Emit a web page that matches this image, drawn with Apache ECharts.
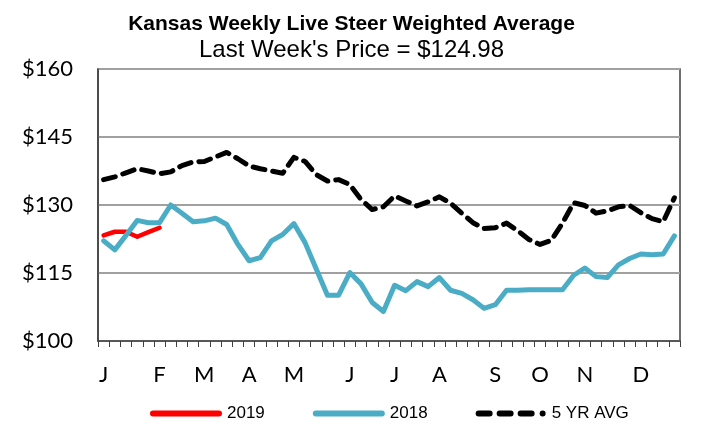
<!DOCTYPE html>
<html>
<head>
<meta charset="utf-8">
<script src="https://cdn.jsdelivr.net/npm/echarts@6/dist/echarts.min.js"></script>
<style>html,body{margin:0;padding:0;background:#fff;}#c{width:703px;height:424px;}</style>
</head>
<body>
<div id="c"></div>
<script>
// 52 weekly categories; month letters at the week where they are labelled
const weeks = ['J','','','','','F','','','','M','','','','A','','','','M','','','','','J','','','','J','','','','A','','','','','S','','','','O','','','','N','','','','','D','','',''];
const y2019 = [123.3, 124.1, 124.1, 123.0, 124.0, 124.98];
const y2018 = [122.1, 120.1, 123.3, 126.6, 126.1, 126.1, 130.0, 128.2, 126.3, 126.5, 127.1, 125.7, 121.3, 117.7, 118.4, 122.1, 123.5, 125.9, 121.7, 115.9, 110.1, 110.1, 115.1, 112.6, 108.5, 106.5, 112.3, 111.1, 113.1, 112.0, 114.0, 111.2, 110.5, 109.1, 107.2, 108.0, 111.2, 111.2, 111.3, 111.3, 111.3, 111.3, 114.5, 116.1, 114.2, 114.0, 116.8, 118.2, 119.2, 119.0, 119.2, 123.2];
const avg5 = [135.6, 136.2, 137.1, 138.0, 137.5, 136.9, 137.3, 138.7, 139.5, 139.6, 140.6, 141.6, 140.2, 138.6, 138.0, 137.5, 137.0, 140.5, 139.6, 136.7, 135.3, 135.6, 134.5, 131.2, 129.0, 129.6, 132.0, 130.9, 129.8, 130.7, 131.8, 130.4, 128.2, 126.1, 124.8, 125.0, 126.0, 124.3, 122.4, 121.3, 122.2, 126.0, 130.5, 129.9, 128.2, 128.7, 129.6, 129.9, 128.3, 127.0, 126.3, 131.6];
const seriesNames = ['2019', '2018', '5 YR AVG'];
const titleText = 'Kansas Weekly Live Steer Weighted Average';
const subText = "Last Week's Price = $124.98";

const solidIcon = 'path://M3,0H69A3,3 0 0 1 69,6H3A3,3 0 0 1 3,0Z';
const dashIcon = 'path://M2,0H13A3,3 0 0 1 13,6H2A3,3 0 0 1 2,0Z M23,0H34A3,3 0 0 1 34,6H23A3,3 0 0 1 23,0Z M44,0H55A3,3 0 0 1 55,6H44A3,3 0 0 1 44,0Z M66,0A3,3 0 0 1 66,6A3,3 0 0 1 66,0Z';

const chart = echarts.init(document.getElementById('c'), null, {renderer: 'canvas'});
chart.setOption({
  animation: false,
  backgroundColor: '#fff',
  title: [
    {text: titleText, left: 'center', top: 9, textStyle: {fontFamily: 'Liberation Sans', fontWeight: 'bold', fontSize: 21, color: '#000'}},
    {text: subText, left: 'center', top: 33, textStyle: {fontFamily: 'Liberation Sans', fontWeight: 'normal', fontSize: 24, color: '#000'}}
  ],
  grid: {left: 98, right: 23, top: 69, bottom: 83, show: true, borderColor: '#404040', borderWidth: 1.5, containLabel: false},
  legend: {
    top: 400, left: 145, itemWidth: 72, itemHeight: 6, itemGap: 48,
    textStyle: {fontFamily: 'Liberation Sans', fontSize: 17, color: '#000'},
    data: [
      {name: seriesNames[0], icon: solidIcon, itemStyle: {color: '#ff0000'}},
      {name: seriesNames[1], icon: solidIcon, itemStyle: {color: '#4bacc6'}},
      {name: seriesNames[2], icon: dashIcon, itemStyle: {color: '#000'}}
    ]
  },
  xAxis: {
    type: 'category', data: weeks, boundaryGap: true,
    axisLine: {lineStyle: {color: '#404040', width: 1.5}},
    axisTick: {show: true, interval: 0, length: 6, lineStyle: {color: '#404040'}},
    axisLabel: {interval: 0, margin: 23, fontFamily: 'Lato', fontSize: 22, color: '#000'},
    splitLine: {show: false}
  },
  yAxis: {
    type: 'value', min: 100, max: 160, interval: 15,
    axisLine: {show: true, lineStyle: {color: '#404040', width: 1.5}},
    axisTick: {show: false},
    axisLabel: {margin: 25, fontFamily: 'Lato', fontSize: 22, color: '#000', formatter: v => '$' + v},
    splitLine: {show: true, lineStyle: {color: '#a0a0a0', width: 2}}
  },
  series: [
    {name: seriesNames[0], type: 'line', data: y2019, showSymbol: false, symbol: 'none', color: '#ff0000', lineStyle: {color: '#ff0000', width: 4.5, cap: 'round', join: 'round'}},
    {name: seriesNames[1], type: 'line', data: y2018, showSymbol: false, symbol: 'none', color: '#4bacc6', lineStyle: {color: '#4bacc6', width: 5, cap: 'round', join: 'round'}},
    {name: seriesNames[2], type: 'line', data: avg5, showSymbol: false, symbol: 'none', color: '#000', lineStyle: {color: '#000', width: 5, type: [12, 8], cap: 'round', join: 'round'}}
  ]
});
</script>
</body>
</html>
